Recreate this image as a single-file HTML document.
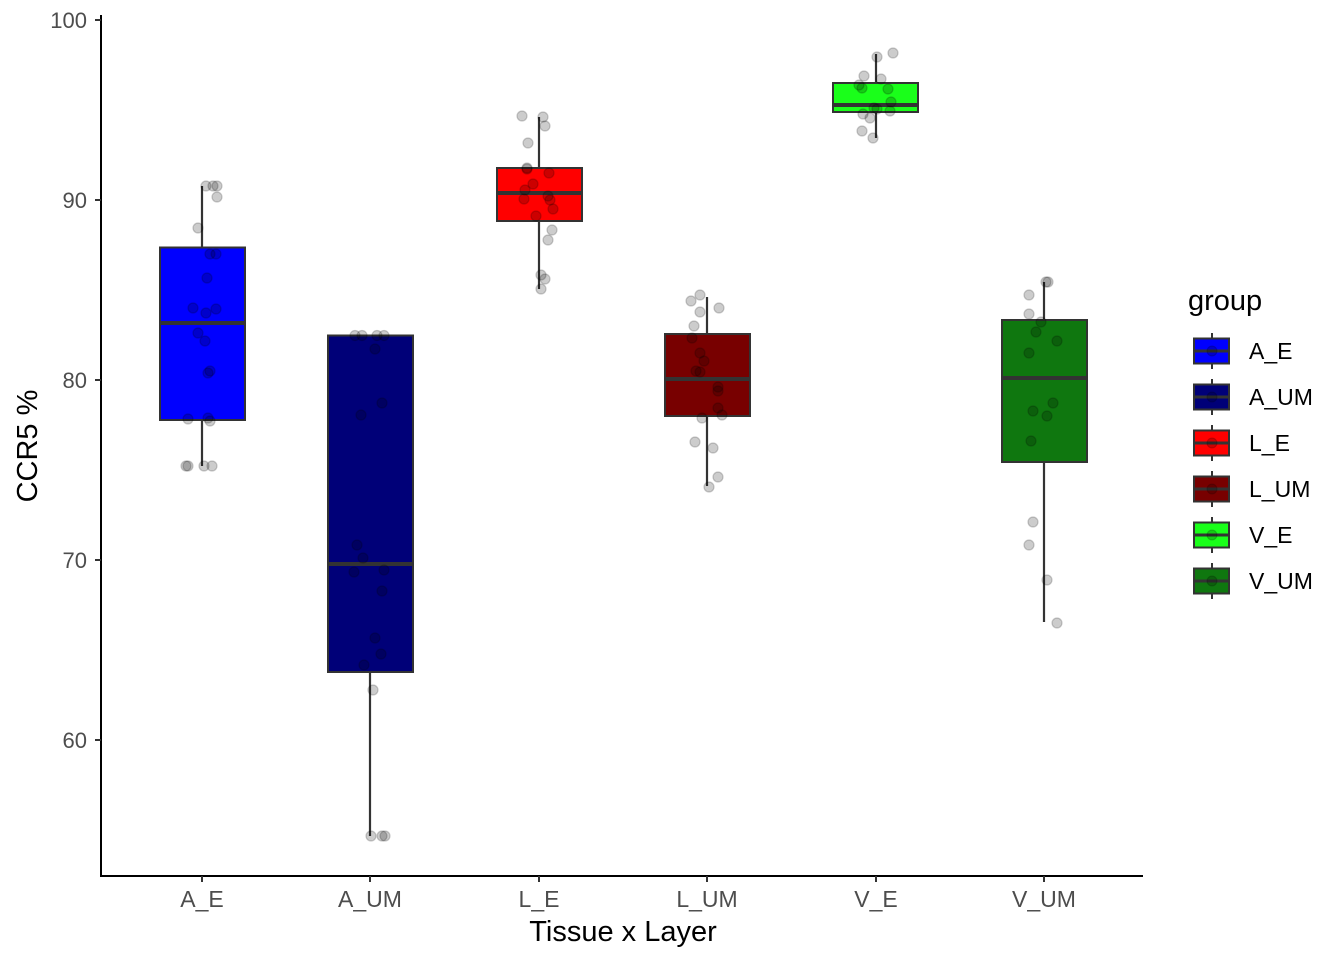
<!DOCTYPE html>
<html><head><meta charset="utf-8"><style>
html,body{margin:0;padding:0;background:#fff;}
svg{display:block;font-family:"Liberation Sans",Arial,sans-serif;}
</style></head><body>
<svg width="1344" height="960" viewBox="0 0 1344 960" xmlns="http://www.w3.org/2000/svg">
<rect width="1344" height="960" fill="#fff"/>
<g stroke="#333" stroke-width="2.2" fill="none">
<line x1="202" y1="186" x2="202" y2="247.5"/><line x1="202" y1="420" x2="202" y2="466"/>
<line x1="370" y1="672" x2="370" y2="836"/>
<line x1="539" y1="117" x2="539" y2="168"/><line x1="539" y1="221" x2="539" y2="289"/>
<line x1="707" y1="297" x2="707" y2="334"/><line x1="707" y1="416" x2="707" y2="486"/>
<line x1="876" y1="54" x2="876" y2="83"/><line x1="876" y1="112" x2="876" y2="138"/>
<line x1="1044" y1="282" x2="1044" y2="320"/><line x1="1044" y1="462" x2="1044" y2="622"/>
</g>
<g stroke="#333" stroke-width="2">
<rect x="160" y="247.5" width="85" height="172.5" fill="#0000ff"/>
<rect x="328" y="335.5" width="85" height="336.5" fill="#000078"/>
<rect x="497" y="168" width="85" height="53" fill="#ff0000"/>
<rect x="665" y="334" width="85" height="82" fill="#780000"/>
<rect x="833" y="83" width="85" height="29" fill="#1aff1a"/>
<rect x="1002" y="320" width="85" height="142" fill="#0f770f"/>
</g>
<g stroke="#333" stroke-width="4">
<line x1="160" y1="323" x2="245" y2="323"/>
<line x1="328" y1="564" x2="413" y2="564"/>
<line x1="497" y1="193" x2="582" y2="193"/>
<line x1="665" y1="379" x2="750" y2="379"/>
<line x1="833" y1="105" x2="918" y2="105"/>
<line x1="1002" y1="378" x2="1087" y2="378"/>
</g>
<g fill="#000" fill-opacity="0.2" stroke="#000" stroke-opacity="0.2" stroke-width="1.2">
<circle cx="206" cy="186" r="5"/><circle cx="213" cy="186" r="5"/><circle cx="217" cy="186" r="5"/><circle cx="217" cy="197" r="5"/>
<circle cx="198" cy="228" r="5"/><circle cx="210" cy="254" r="5"/><circle cx="216" cy="254" r="5"/><circle cx="207" cy="278" r="5"/>
<circle cx="193" cy="308" r="5"/><circle cx="206" cy="313" r="5"/><circle cx="216" cy="309" r="5"/><circle cx="198" cy="333" r="5"/>
<circle cx="205" cy="341" r="5"/><circle cx="210" cy="371" r="5"/><circle cx="208" cy="373" r="5"/><circle cx="188" cy="419" r="5"/>
<circle cx="208" cy="418" r="5"/><circle cx="210" cy="421" r="5"/><circle cx="186" cy="466" r="5"/><circle cx="188" cy="466" r="5"/>
<circle cx="204" cy="466" r="5"/><circle cx="212" cy="466" r="5"/>
<circle cx="355" cy="335.5" r="5"/><circle cx="362" cy="335.5" r="5"/><circle cx="377" cy="335.5" r="5"/><circle cx="384" cy="335.5" r="5"/>
<circle cx="375" cy="349" r="5"/><circle cx="382" cy="403" r="5"/><circle cx="361" cy="415" r="5"/><circle cx="357" cy="545" r="5"/>
<circle cx="363" cy="558" r="5"/><circle cx="354" cy="572" r="5"/><circle cx="384" cy="570" r="5"/><circle cx="382" cy="591" r="5"/>
<circle cx="375" cy="638" r="5"/><circle cx="381" cy="654" r="5"/><circle cx="364" cy="665" r="5"/><circle cx="373" cy="690" r="5"/>
<circle cx="371" cy="836" r="5"/><circle cx="382" cy="836" r="5"/><circle cx="385" cy="836" r="5"/>
<circle cx="522" cy="116" r="5"/><circle cx="543" cy="117" r="5"/><circle cx="545" cy="126" r="5"/><circle cx="528" cy="143" r="5"/>
<circle cx="527" cy="168" r="5"/><circle cx="527" cy="169" r="5"/><circle cx="549" cy="173" r="5"/><circle cx="533" cy="184" r="5"/>
<circle cx="525" cy="190" r="5"/><circle cx="524" cy="199" r="5"/><circle cx="548" cy="196" r="5"/><circle cx="550" cy="200" r="5"/>
<circle cx="553" cy="209" r="5"/><circle cx="536" cy="216" r="5"/><circle cx="552" cy="230" r="5"/><circle cx="548" cy="240" r="5"/>
<circle cx="541" cy="275" r="5"/><circle cx="545" cy="279" r="5"/><circle cx="541" cy="289" r="5"/>
<circle cx="700" cy="295" r="5"/><circle cx="691" cy="301" r="5"/><circle cx="719" cy="308" r="5"/><circle cx="700" cy="312" r="5"/>
<circle cx="694" cy="326" r="5"/><circle cx="692" cy="338" r="5"/><circle cx="700" cy="353" r="5"/><circle cx="704" cy="361" r="5"/>
<circle cx="696" cy="371" r="5"/><circle cx="700" cy="372" r="5"/><circle cx="718" cy="387" r="5"/><circle cx="718" cy="391" r="5"/>
<circle cx="718" cy="408" r="5"/><circle cx="722" cy="415" r="5"/><circle cx="702" cy="418" r="5"/><circle cx="695" cy="442" r="5"/>
<circle cx="713" cy="448" r="5"/><circle cx="718" cy="477" r="5"/><circle cx="709" cy="487" r="5"/>
<circle cx="877" cy="57" r="5"/><circle cx="893" cy="53" r="5"/><circle cx="864" cy="76" r="5"/><circle cx="881" cy="79" r="5"/>
<circle cx="859" cy="85" r="5"/><circle cx="862" cy="88" r="5"/><circle cx="888" cy="89" r="5"/><circle cx="891" cy="102" r="5"/>
<circle cx="877" cy="109" r="5"/><circle cx="874" cy="108" r="5"/><circle cx="890" cy="111" r="5"/><circle cx="863" cy="114" r="5"/>
<circle cx="870" cy="118" r="5"/><circle cx="862" cy="131" r="5"/><circle cx="873" cy="138" r="5"/>
<circle cx="1046" cy="282" r="5"/><circle cx="1048" cy="282" r="5"/><circle cx="1029" cy="295" r="5"/><circle cx="1029" cy="314" r="5"/>
<circle cx="1041" cy="322" r="5"/><circle cx="1036" cy="332" r="5"/><circle cx="1057" cy="341" r="5"/><circle cx="1029" cy="353" r="5"/>
<circle cx="1053" cy="403" r="5"/><circle cx="1033" cy="411" r="5"/><circle cx="1047" cy="416" r="5"/><circle cx="1031" cy="441" r="5"/>
<circle cx="1033" cy="522" r="5"/><circle cx="1029" cy="545" r="5"/><circle cx="1047" cy="580" r="5"/><circle cx="1057" cy="623" r="5"/>
</g>
<g stroke="#000" stroke-width="2" fill="none">
<line x1="101" y1="15" x2="101" y2="877"/>
<line x1="100" y1="876" x2="1143" y2="876"/>
</g>
<g stroke="#333" stroke-width="2">
<line x1="95" y1="20" x2="101" y2="20"/><line x1="95" y1="200" x2="101" y2="200"/><line x1="95" y1="380" x2="101" y2="380"/>
<line x1="95" y1="560" x2="101" y2="560"/><line x1="95" y1="740" x2="101" y2="740"/>
<line x1="202" y1="876" x2="202" y2="882"/><line x1="370" y1="876" x2="370" y2="882"/><line x1="539" y1="876" x2="539" y2="882"/>
<line x1="707" y1="876" x2="707" y2="882"/><line x1="876" y1="876" x2="876" y2="882"/><line x1="1044" y1="876" x2="1044" y2="882"/>
</g>
<g fill="#4d4d4d" font-size="22" text-anchor="end">
<text x="87" y="28">100</text><text x="87" y="208">90</text><text x="87" y="388">80</text><text x="87" y="568">70</text><text x="87" y="748">60</text>
</g>
<g fill="#4d4d4d" font-size="23" text-anchor="middle">
<text x="202" y="907">A_E</text><text x="370" y="907">A_UM</text><text x="539" y="907">L_E</text>
<text x="707" y="907">L_UM</text><text x="876" y="907">V_E</text><text x="1044" y="907">V_UM</text>
</g>
<text x="623" y="941" font-size="29" text-anchor="middle" fill="#000">Tissue x Layer</text>
<text transform="translate(37,446) rotate(-90)" font-size="29" text-anchor="middle" fill="#000">CCR5 %</text>
<text x="1188" y="310" font-size="29" fill="#000">group</text>
<g stroke="#333" stroke-width="2">
<line x1="1212" y1="333" x2="1212" y2="369"/><rect x="1194" y="338.5" width="35" height="25" fill="#0000ff"/><line x1="1194" y1="351" x2="1229" y2="351" stroke-width="3"/>
<line x1="1212" y1="379" x2="1212" y2="415"/><rect x="1194" y="384.5" width="35" height="25" fill="#000078"/><line x1="1194" y1="397" x2="1229" y2="397" stroke-width="3"/>
<line x1="1212" y1="425" x2="1212" y2="461"/><rect x="1194" y="430.5" width="35" height="25" fill="#ff0000"/><line x1="1194" y1="443" x2="1229" y2="443" stroke-width="3"/>
<line x1="1212" y1="471" x2="1212" y2="507"/><rect x="1194" y="476.5" width="35" height="25" fill="#780000"/><line x1="1194" y1="489" x2="1229" y2="489" stroke-width="3"/>
<line x1="1212" y1="517" x2="1212" y2="553"/><rect x="1194" y="522.5" width="35" height="25" fill="#1aff1a"/><line x1="1194" y1="535" x2="1229" y2="535" stroke-width="3"/>
<line x1="1212" y1="563" x2="1212" y2="599"/><rect x="1194" y="568.5" width="35" height="25" fill="#0f770f"/><line x1="1194" y1="581" x2="1229" y2="581" stroke-width="3"/>
</g>
<g fill="#000" fill-opacity="0.2" stroke="#000" stroke-opacity="0.2" stroke-width="1">
<circle cx="1212" cy="351" r="5"/><circle cx="1212" cy="397" r="5"/><circle cx="1212" cy="443" r="5"/>
<circle cx="1212" cy="489" r="5"/><circle cx="1212" cy="535" r="5"/><circle cx="1212" cy="581" r="5"/>
</g>
<g fill="#000" font-size="23">
<text x="1249" y="359">A_E</text><text x="1249" y="405">A_UM</text><text x="1249" y="451">L_E</text>
<text x="1249" y="497">L_UM</text><text x="1249" y="543">V_E</text><text x="1249" y="589">V_UM</text>
</g>
</svg>
</body></html>
